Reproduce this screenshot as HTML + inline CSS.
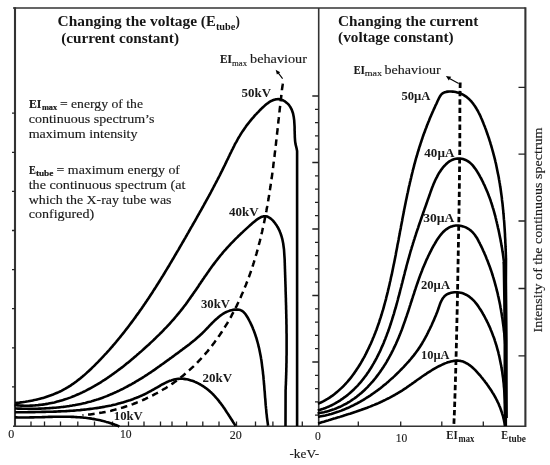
<!DOCTYPE html>
<html><head><meta charset="utf-8"><style>
html,body{margin:0;padding:0;background:#fff;}
svg{display:block;will-change:transform;}
text{font-family:"Liberation Serif",serif;fill:#1a1a1a;}
.t text{fill:#161616;}
</style></head><body>
<svg width="550" height="465" viewBox="0 0 550 465">
<rect width="550" height="465" fill="#fff"/>
<!-- frame -->
<path d="M13,8 H525.4 M318.7,8 V426 M13,426.2 H526" stroke="#333" stroke-width="1.6" fill="none"/>
<path d="M15,7.2 V427 M525.4,7.2 V427" stroke="#333" stroke-width="2.1" fill="none"/>
<path d="M12,113.2 H15 M12,152.3 H15 M12,191.4 H15 M12,230.5 H15 M12,269.6 H15 M12,308.7 H15 M12,347.8 H15 M12,386.9 H15 M31.0,426 V421.5 M44.5,426 V421.5 M60.5,426 V421.5 M77.8,426 V421.5 M94.5,426 V421.5 M112.5,426 V421.5 M128.5,426 V421.5 M144.0,426 V421.5 M160.5,426 V421.5 M172.0,426 V421.5 M186.7,426 V421.5 M202.8,426 V421.5 M219.0,426 V421.5 M236.5,426 V421.5 M255.5,426 V421.5 M272.9,426 V421.5 M302.3,426 V421.5 M312.3,96.0 H318.5 M315,109.3 H318.5 M315,122.6 H318.5 M315,135.9 H318.5 M315,149.2 H318.5 M312.3,162.5 H318.5 M315,175.8 H318.5 M315,189.1 H318.5 M315,202.4 H318.5 M315,215.7 H318.5 M312.3,229.0 H318.5 M315,242.3 H318.5 M315,255.6 H318.5 M315,268.9 H318.5 M315,282.2 H318.5 M312.3,295.5 H318.5 M315,308.8 H318.5 M315,322.1 H318.5 M315,335.4 H318.5 M315,348.7 H318.5 M312.3,362.0 H318.5 M315,375.3 H318.5 M315,388.6 H318.5 M315,401.9 H318.5 M315,415.2 H318.5 M358.3,426 V421.5 M400.7,426 V421.5 M441.8,426 V421.5 M483.3,426 V421.5 M518.5,87.4 H525 M518.5,154.1 H525 M518.5,221.0 H525 M518.5,288.5 H525 M518.5,355.8 H525 " stroke="#222" stroke-width="1.3" fill="none"/>
<g stroke="#000" stroke-width="2.6" fill="none" stroke-linejoin="round" stroke-linecap="butt">
<path d="M15.1,403.0 L16.5,402.9 L18.0,402.7 L19.5,402.6 L20.9,402.4 L22.4,402.2 L23.9,402.0 L25.4,401.8 L26.8,401.5 L28.3,401.3 L29.8,401.0 L31.3,400.7 L32.8,400.4 L34.2,400.1 L35.7,399.8 L37.2,399.4 L38.7,399.1 L40.1,398.7 L41.6,398.3 L43.1,397.9 L44.5,397.5 L46.0,397.0 L47.4,396.5 L48.8,396.0 L50.3,395.5 L51.7,395.0 L53.1,394.5 L54.5,393.9 L55.9,393.3 L57.3,392.7 L58.7,392.1 L60.0,391.5 L61.4,390.8 L62.7,390.1 L64.0,389.4 L65.4,388.7 L66.7,387.9 L68.0,387.2 L69.2,386.4 L70.5,385.6 L71.7,384.7 L73.0,383.9 L74.2,383.0 L75.4,382.2 L76.6,381.3 L77.8,380.3 L79.0,379.4 L80.2,378.5 L81.3,377.5 L82.5,376.6 L83.7,375.6 L84.8,374.6 L85.9,373.6 L87.0,372.6 L88.2,371.6 L89.3,370.5 L90.4,369.5 L91.5,368.5 L92.5,367.4 L93.6,366.4 L94.7,365.3 L95.8,364.2 L96.8,363.2 L97.9,362.1 L98.9,361.0 L100.0,359.9 L101.0,358.8 L102.1,357.7 L103.1,356.6 L104.1,355.5 L105.1,354.4 L106.2,353.3 L107.2,352.2 L108.2,351.1 L109.2,350.0 L110.2,348.8 L111.2,347.7 L112.2,346.6 L113.1,345.4 L114.1,344.3 L115.1,343.2 L116.1,342.0 L117.0,340.8 L118.0,339.7 L118.9,338.5 L119.9,337.4 L120.8,336.2 L121.8,335.0 L122.7,333.9 L123.7,332.7 L124.6,331.5 L125.5,330.3 L126.4,329.1 L127.4,327.9 L128.3,326.7 L129.2,325.5 L130.1,324.3 L131.0,323.1 L131.9,321.9 L132.8,320.7 L133.7,319.5 L134.6,318.3 L135.5,317.1 L136.3,315.8 L137.2,314.6 L138.1,313.4 L139.0,312.2 L139.8,310.9 L140.7,309.7 L141.6,308.5 L142.4,307.2 L143.3,306.0 L144.1,304.7 L145.0,303.5 L145.8,302.2 L146.7,301.0 L147.5,299.7 L148.4,298.5 L149.2,297.2 L150.0,296.0 L150.8,294.7 L151.7,293.4 L152.5,292.2 L153.3,290.9 L154.1,289.6 L155.0,288.4 L155.8,287.1 L156.6,285.8 L157.4,284.5 L158.2,283.3 L159.0,282.0 L159.8,280.7 L160.6,279.4 L161.4,278.1 L162.2,276.8 L163.0,275.6 L163.8,274.3 L164.6,273.0 L165.3,271.7 L166.1,270.4 L166.9,269.1 L167.7,267.8 L168.5,266.5 L169.3,265.2 L170.0,263.9 L170.8,262.6 L171.6,261.3 L172.3,260.0 L173.1,258.7 L173.9,257.4 L174.6,256.1 L175.4,254.8 L176.2,253.5 L176.9,252.2 L177.7,250.9 L178.5,249.6 L179.2,248.3 L180.0,247.0 L180.7,245.7 L181.5,244.4 L182.2,243.1 L183.0,241.8 L183.8,240.5 L184.5,239.2 L185.3,237.8 L186.0,236.5 L186.8,235.2 L187.5,233.9 L188.3,232.6 L189.0,231.3 L189.8,230.0 L190.5,228.7 L191.2,227.4 L192.0,226.1 L192.7,224.8 L193.5,223.5 L194.2,222.2 L195.0,220.9 L195.7,219.6 L196.5,218.2 L197.2,216.9 L197.9,215.6 L198.7,214.3 L199.4,213.0 L200.1,211.7 L200.9,210.4 L201.6,209.1 L202.3,207.8 L203.1,206.5 L203.8,205.2 L204.5,203.8 L205.3,202.5 L206.0,201.2 L206.7,199.9 L207.4,198.6 L208.1,197.3 L208.9,195.9 L209.6,194.6 L210.3,193.3 L211.0,192.0 L211.7,190.6 L212.4,189.3 L213.1,188.0 L213.8,186.7 L214.5,185.3 L215.2,184.0 L215.9,182.7 L216.6,181.3 L217.3,180.0 L218.0,178.6 L218.7,177.3 L219.4,176.0 L220.1,174.6 L220.7,173.3 L221.4,171.9 L222.1,170.6 L222.8,169.2 L223.4,167.9 L224.1,166.5 L224.8,165.1 L225.4,163.8 L226.1,162.4 L226.7,161.0 L227.4,159.7 L228.1,158.3 L228.7,156.9 L229.4,155.6 L230.0,154.2 L230.7,152.8 L231.4,151.5 L232.0,150.1 L232.7,148.8 L233.4,147.4 L234.1,146.1 L234.7,144.7 L235.4,143.4 L236.2,142.1 L236.9,140.8 L237.6,139.5 L238.3,138.2 L239.1,136.9 L239.9,135.6 L240.6,134.4 L241.4,133.1 L242.2,131.9 L243.0,130.7 L243.9,129.4 L244.7,128.2 L245.6,127.0 L246.4,125.8 L247.3,124.6 L248.3,123.4 L249.2,122.2 L250.1,121.1 L251.1,119.9 L252.1,118.7 L253.1,117.6 L254.1,116.4 L255.1,115.2 L256.2,114.1 L257.3,112.9 L258.4,111.8 L259.5,110.6 L260.6,109.5 L261.8,108.3 L263.0,107.2 L264.2,106.1 L265.4,105.0 L266.6,104.0 L267.9,103.1 L269.1,102.2 L270.4,101.4 L271.7,100.8 L272.9,100.2 L274.2,99.7 L275.5,99.4 L276.8,99.2 L278.2,99.1 L279.5,99.2 L280.8,99.5 L282.1,99.9 L283.3,100.5 L284.5,101.2 L285.7,102.0 L286.8,102.9 L287.9,103.9 L288.9,104.9 L289.7,106.1 L290.5,107.3 L291.2,108.6 L291.8,109.9 L292.3,111.3 L292.8,112.7 L293.2,114.2 L293.5,115.7 L293.8,117.3 L294.0,118.9 L294.2,120.4 L294.3,122.1 L294.4,123.7 L294.5,125.3 L294.6,127.0 L294.6,128.6 L294.6,130.2 L294.7,131.9 L294.7,133.5 L294.8,135.0 L294.8,136.6 L294.9,138.1 L295.0,139.6 L295.1,141.1 L295.3,142.5 L295.5,143.9 L295.8,145.2 L296.1,146.4 L296.4,147.6 L297.1,151.0 L297.1,426.0"/>
<path d="M14.6,405.1 L16.2,405.3 L17.8,405.4 L19.4,405.5 L21.0,405.6 L22.6,405.6 L24.2,405.7 L25.7,405.7 L27.3,405.7 L28.9,405.7 L30.4,405.6 L32.0,405.6 L33.5,405.5 L35.0,405.4 L36.6,405.2 L38.1,405.1 L39.6,404.9 L41.1,404.8 L42.6,404.6 L44.1,404.4 L45.6,404.1 L47.1,403.9 L48.6,403.6 L50.0,403.3 L51.5,403.0 L53.0,402.7 L54.4,402.4 L55.9,402.0 L57.3,401.6 L58.8,401.2 L60.2,400.8 L61.6,400.4 L63.0,400.0 L64.5,399.5 L65.9,399.1 L67.3,398.6 L68.7,398.1 L70.1,397.6 L71.4,397.1 L72.8,396.5 L74.2,396.0 L75.6,395.4 L76.9,394.8 L78.3,394.2 L79.7,393.6 L81.0,393.0 L82.4,392.4 L83.7,391.7 L85.0,391.1 L86.4,390.4 L87.7,389.7 L89.0,389.0 L90.3,388.3 L91.6,387.6 L92.9,386.9 L94.2,386.2 L95.5,385.4 L96.8,384.7 L98.1,383.9 L99.4,383.1 L100.7,382.3 L101.9,381.5 L103.2,380.7 L104.5,379.9 L105.7,379.1 L107.0,378.2 L108.2,377.4 L109.5,376.5 L110.7,375.7 L111.9,374.8 L113.2,373.9 L114.4,373.0 L115.6,372.2 L116.8,371.3 L118.1,370.3 L119.3,369.4 L120.5,368.5 L121.7,367.6 L122.9,366.7 L124.1,365.7 L125.3,364.8 L126.4,363.8 L127.6,362.9 L128.8,361.9 L130.0,360.9 L131.1,360.0 L132.3,359.0 L133.5,358.0 L134.6,357.0 L135.8,356.1 L136.9,355.1 L138.1,354.1 L139.2,353.1 L140.4,352.1 L141.5,351.1 L142.6,350.1 L143.8,349.0 L144.9,348.0 L146.0,347.0 L147.1,346.0 L148.3,345.0 L149.4,344.0 L150.5,342.9 L151.6,341.9 L152.7,340.9 L153.8,339.8 L154.9,338.8 L156.0,337.7 L157.0,336.7 L158.1,335.6 L159.2,334.6 L160.2,333.5 L161.3,332.5 L162.4,331.4 L163.4,330.3 L164.4,329.2 L165.5,328.1 L166.5,327.1 L167.5,326.0 L168.6,324.9 L169.6,323.8 L170.6,322.7 L171.6,321.5 L172.6,320.4 L173.6,319.3 L174.6,318.2 L175.5,317.0 L176.5,315.9 L177.5,314.7 L178.4,313.6 L179.4,312.4 L180.3,311.3 L181.2,310.1 L182.2,308.9 L183.1,307.7 L184.0,306.5 L184.9,305.4 L185.8,304.2 L186.7,302.9 L187.6,301.7 L188.4,300.5 L189.3,299.3 L190.2,298.1 L191.0,296.8 L191.9,295.6 L192.8,294.4 L193.6,293.1 L194.5,291.9 L195.3,290.7 L196.2,289.4 L197.0,288.2 L197.9,286.9 L198.7,285.7 L199.5,284.4 L200.4,283.2 L201.2,281.9 L202.1,280.7 L202.9,279.4 L203.8,278.2 L204.6,276.9 L205.5,275.7 L206.4,274.4 L207.2,273.2 L208.1,272.0 L209.0,270.7 L209.8,269.5 L210.7,268.3 L211.6,267.0 L212.5,265.8 L213.4,264.6 L214.3,263.4 L215.2,262.2 L216.1,261.0 L217.1,259.8 L218.0,258.6 L219.0,257.4 L219.9,256.2 L220.9,255.0 L221.9,253.9 L222.8,252.7 L223.8,251.5 L224.8,250.4 L225.8,249.3 L226.8,248.1 L227.9,247.0 L228.9,245.9 L229.9,244.8 L230.9,243.7 L232.0,242.6 L233.0,241.6 L234.1,240.5 L235.1,239.4 L236.1,238.4 L237.2,237.4 L238.2,236.3 L239.3,235.3 L240.3,234.3 L241.4,233.3 L242.4,232.4 L243.4,231.4 L244.5,230.4 L245.6,229.4 L246.7,228.4 L247.8,227.4 L248.9,226.4 L250.1,225.3 L251.3,224.2 L252.6,223.1 L253.9,222.0 L255.2,220.9 L256.5,219.8 L257.9,218.9 L259.2,218.1 L260.6,217.3 L261.9,216.8 L263.3,216.4 L264.6,216.2 L265.9,216.3 L267.2,216.5 L268.4,217.1 L269.6,217.8 L270.8,218.6 L271.9,219.6 L273.0,220.7 L274.0,221.9 L274.9,223.0 L275.8,224.3 L276.7,225.5 L277.4,226.8 L278.2,228.0 L278.8,229.4 L279.5,230.7 L280.0,232.0 L280.6,233.4 L281.0,234.8 L281.5,236.2 L281.9,237.6 L282.3,239.1 L282.6,240.5 L282.9,242.0 L283.2,243.5 L283.4,245.0 L283.6,246.5 L283.8,248.0 L284.0,249.5 L284.1,251.0 L284.2,252.6 L284.3,254.1 L284.4,255.6 L284.5,257.2 L284.6,258.7 L284.7,260.3 L284.7,261.8 L284.8,263.4 L284.8,264.9 L284.9,266.5 L284.9,268.0 L285.0,269.6 L285.0,271.1 L285.1,272.6 L285.1,274.2 L285.2,275.7 L285.2,277.2 L285.3,278.7 L285.3,280.3 L285.4,281.8 L285.4,283.3 L285.5,284.8 L285.5,286.3 L285.6,287.8 L285.6,289.3 L285.6,290.8 L285.7,292.4 L285.7,293.9 L285.8,295.4 L285.8,296.9 L285.9,298.4 L285.9,299.9 L285.9,301.4 L286.0,302.8 L286.0,304.3 L286.1,305.8 L286.1,307.3 L286.1,308.8 L286.2,310.3 L286.2,311.8 L286.2,313.3 L286.3,314.8 L286.3,316.3 L286.3,317.8 L286.4,319.2 L286.4,320.7 L286.4,322.2 L286.4,323.7 L286.5,325.2 L286.5,326.7 L286.5,328.2 L286.5,329.7 L286.5,331.1 L286.5,332.6 L286.6,334.1 L286.6,335.6 L286.6,337.1 L286.6,338.6 L286.6,340.1 L286.6,341.6 L286.6,343.1 L286.6,344.6 L286.6,346.1 L286.6,347.5 L286.6,349.0 L286.6,350.5 L286.6,352.0 L286.6,353.5 L286.6,355.0 L286.5,356.5 L286.5,358.0 L286.5,359.6 L286.5,361.1 L286.5,362.6 L286.4,364.1 L286.4,365.6 L286.4,367.1 L286.3,368.6 L286.3,370.2 L286.3,371.7 L286.2,373.2 L286.2,374.7 L286.1,376.3 L286.1,377.8 L286.0,379.3 L286.0,380.9 L285.9,382.4 L285.9,383.9 L285.8,385.5 L285.7,387.0 L285.7,388.6 L285.6,390.1 L285.5,426.0"/>
<path d="M15.0,408.5 L16.5,408.5 L18.0,408.6 L19.5,408.6 L21.0,408.6 L22.5,408.7 L24.0,408.7 L25.5,408.7 L27.0,408.7 L28.6,408.7 L30.1,408.7 L31.6,408.7 L33.1,408.7 L34.6,408.7 L36.1,408.7 L37.6,408.7 L39.1,408.6 L40.6,408.6 L42.2,408.5 L43.7,408.5 L45.2,408.4 L46.7,408.3 L48.2,408.2 L49.7,408.1 L51.2,408.0 L52.7,407.9 L54.2,407.8 L55.7,407.7 L57.2,407.5 L58.7,407.4 L60.2,407.2 L61.7,407.0 L63.2,406.9 L64.7,406.7 L66.2,406.5 L67.7,406.3 L69.2,406.1 L70.7,405.8 L72.1,405.6 L73.6,405.3 L75.1,405.1 L76.6,404.8 L78.0,404.5 L79.5,404.2 L81.0,403.9 L82.5,403.6 L83.9,403.2 L85.4,402.9 L86.8,402.5 L88.3,402.1 L89.7,401.8 L91.2,401.4 L92.6,400.9 L94.0,400.5 L95.5,400.1 L96.9,399.6 L98.3,399.2 L99.8,398.7 L101.2,398.2 L102.6,397.7 L104.0,397.1 L105.4,396.6 L106.8,396.1 L108.2,395.5 L109.6,394.9 L111.0,394.3 L112.4,393.7 L113.7,393.1 L115.1,392.5 L116.5,391.9 L117.9,391.2 L119.2,390.6 L120.6,389.9 L121.9,389.3 L123.3,388.6 L124.6,387.9 L126.0,387.2 L127.3,386.5 L128.7,385.7 L130.0,385.0 L131.3,384.3 L132.6,383.5 L133.9,382.8 L135.3,382.0 L136.6,381.2 L137.9,380.5 L139.2,379.7 L140.5,378.9 L141.8,378.1 L143.0,377.3 L144.3,376.5 L145.6,375.6 L146.9,374.8 L148.1,374.0 L149.4,373.1 L150.7,372.3 L151.9,371.5 L153.2,370.6 L154.4,369.8 L155.7,368.9 L156.9,368.0 L158.1,367.2 L159.4,366.3 L160.6,365.4 L161.8,364.5 L163.1,363.7 L164.3,362.8 L165.5,361.9 L166.7,361.0 L167.9,360.1 L169.1,359.3 L170.3,358.4 L171.6,357.5 L172.8,356.6 L174.0,355.7 L175.2,354.8 L176.4,353.9 L177.6,353.1 L178.8,352.2 L180.0,351.3 L181.2,350.4 L182.4,349.5 L183.5,348.6 L184.7,347.8 L185.9,346.9 L187.1,346.0 L188.3,345.1 L189.5,344.2 L190.6,343.3 L191.8,342.3 L192.9,341.4 L194.1,340.5 L195.3,339.5 L196.4,338.5 L197.5,337.6 L198.7,336.6 L199.8,335.5 L200.9,334.5 L202.0,333.5 L203.1,332.4 L204.2,331.3 L205.3,330.2 L206.3,329.1 L207.4,328.0 L208.5,326.9 L209.6,325.7 L210.6,324.6 L211.7,323.5 L212.8,322.4 L213.9,321.3 L215.0,320.2 L216.1,319.2 L217.3,318.2 L218.4,317.2 L219.6,316.2 L220.8,315.3 L222.0,314.5 L223.3,313.7 L224.6,312.9 L225.9,312.2 L227.2,311.6 L228.6,311.1 L230.1,310.6 L231.5,310.2 L233.1,309.9 L234.6,309.6 L236.1,309.6 L237.6,309.6 L239.0,309.8 L240.4,310.1 L241.6,310.7 L242.8,311.4 L243.8,312.3 L244.8,313.3 L245.7,314.5 L246.5,315.7 L247.3,317.0 L248.1,318.3 L248.8,319.6 L249.5,321.0 L250.2,322.3 L250.8,323.7 L251.5,325.1 L252.1,326.4 L252.7,327.8 L253.2,329.2 L253.8,330.6 L254.3,332.0 L254.8,333.4 L255.3,334.8 L255.8,336.3 L256.3,337.7 L256.7,339.1 L257.1,340.6 L257.5,342.0 L257.9,343.5 L258.3,344.9 L258.6,346.4 L259.0,347.8 L259.3,349.3 L259.6,350.8 L259.9,352.3 L260.2,353.8 L260.5,355.3 L260.8,356.7 L261.0,358.2 L261.3,359.7 L261.5,361.2 L261.7,362.7 L261.9,364.2 L262.1,365.8 L262.3,367.3 L262.5,368.8 L262.7,370.3 L262.9,371.8 L263.0,373.3 L263.2,374.9 L263.4,376.4 L263.5,377.9 L263.6,379.4 L263.8,380.9 L263.9,382.5 L264.0,384.0 L264.2,385.5 L264.3,387.0 L264.4,388.5 L264.5,390.1 L264.7,391.6 L264.8,393.1 L264.9,394.6 L265.0,396.1 L265.1,397.6 L265.3,399.2 L265.4,400.7 L265.5,402.2 L265.6,403.7 L265.7,405.2 L265.9,406.7 L266.0,408.2 L266.2,409.7 L266.3,411.2 L266.4,412.6 L266.6,414.1 L266.8,415.6 L266.9,417.1 L267.1,418.5 L267.3,420.0 L267.5,421.5 L267.7,422.9 L267.9,424.4 L268.1,425.8"/>
<path d="M15.0,412.3 L16.5,412.3 L18.0,412.3 L19.5,412.3 L21.0,412.2 L22.5,412.2 L24.0,412.2 L25.5,412.2 L27.0,412.2 L28.5,412.1 L30.0,412.1 L31.5,412.1 L33.0,412.1 L34.5,412.1 L36.1,412.0 L37.6,412.0 L39.1,412.0 L40.6,412.0 L42.1,411.9 L43.6,411.9 L45.1,411.9 L46.6,411.8 L48.2,411.8 L49.7,411.7 L51.2,411.7 L52.7,411.7 L54.2,411.6 L55.8,411.6 L57.3,411.5 L58.8,411.4 L60.3,411.4 L61.8,411.3 L63.3,411.2 L64.9,411.2 L66.4,411.1 L67.9,411.0 L69.4,410.9 L70.9,410.8 L72.4,410.7 L74.0,410.6 L75.5,410.5 L77.0,410.3 L78.5,410.2 L80.0,410.1 L81.5,409.9 L83.0,409.8 L84.5,409.6 L86.0,409.5 L87.5,409.3 L89.0,409.1 L90.5,408.9 L92.0,408.7 L93.5,408.5 L95.0,408.3 L96.5,408.1 L98.0,407.9 L99.5,407.6 L101.0,407.4 L102.4,407.1 L103.9,406.9 L105.4,406.6 L106.9,406.3 L108.3,406.0 L109.8,405.7 L111.3,405.4 L112.7,405.0 L114.2,404.7 L115.6,404.4 L117.1,404.0 L118.5,403.6 L120.0,403.2 L121.4,402.8 L122.9,402.4 L124.3,402.0 L125.7,401.6 L127.2,401.1 L128.6,400.6 L130.0,400.2 L131.4,399.7 L132.8,399.2 L134.2,398.6 L135.7,398.1 L137.1,397.5 L138.5,397.0 L139.8,396.4 L141.2,395.8 L142.6,395.1 L144.0,394.5 L145.4,393.8 L146.8,393.1 L148.1,392.4 L149.5,391.7 L150.9,391.0 L152.2,390.2 L153.6,389.5 L154.9,388.7 L156.3,387.9 L157.7,387.1 L159.0,386.3 L160.4,385.5 L161.7,384.7 L163.1,384.0 L164.4,383.3 L165.8,382.6 L167.1,382.0 L168.5,381.4 L169.9,380.8 L171.3,380.4 L172.6,379.9 L174.0,379.6 L175.4,379.3 L176.8,379.0 L178.2,378.9 L179.6,378.8 L181.0,378.8 L182.5,378.8 L183.9,378.9 L185.3,379.1 L186.7,379.3 L188.1,379.6 L189.5,380.0 L190.9,380.4 L192.3,380.8 L193.7,381.3 L195.0,381.9 L196.4,382.5 L197.8,383.1 L199.1,383.8 L200.4,384.5 L201.7,385.3 L203.0,386.1 L204.3,387.0 L205.5,387.9 L206.8,388.8 L208.0,389.8 L209.2,390.8 L210.3,391.8 L211.5,392.8 L212.6,393.9 L213.7,395.0 L214.7,396.1 L215.8,397.3 L216.8,398.5 L217.8,399.7 L218.8,400.9 L219.7,402.1 L220.7,403.3 L221.6,404.6 L222.5,405.8 L223.4,407.1 L224.3,408.3 L225.1,409.6 L226.0,410.9 L226.8,412.2 L227.6,413.4 L228.5,414.7 L229.3,416.0 L230.1,417.2 L230.9,418.5 L231.7,419.7 L232.5,421.0 L233.2,422.2 L234.0,423.4 L234.8,424.6 L235.6,425.8"/>
<path d="M15.0,417.4 L16.5,417.4 L18.1,417.5 L19.6,417.5 L21.1,417.5 L22.7,417.5 L24.2,417.5 L25.7,417.5 L27.3,417.5 L28.8,417.5 L30.3,417.4 L31.9,417.4 L33.4,417.4 L35.0,417.3 L36.5,417.3 L38.0,417.2 L39.6,417.2 L41.1,417.2 L42.7,417.1 L44.2,417.1 L45.7,417.0 L47.3,417.0 L48.8,416.9 L50.3,416.9 L51.9,416.9 L53.4,416.8 L54.9,416.8 L56.5,416.8 L58.0,416.8 L59.5,416.7 L61.1,416.7 L62.6,416.7 L64.1,416.7 L65.7,416.7 L67.2,416.8 L68.7,416.8 L70.2,416.8 L71.7,416.9 L73.3,416.9 L74.8,417.0 L76.3,417.1 L77.8,417.2 L79.3,417.3 L80.9,417.4 L82.4,417.5 L83.9,417.7 L85.4,417.8 L86.9,418.0 L88.4,418.2 L89.9,418.4 L91.4,418.6 L92.9,418.9 L94.4,419.1 L95.9,419.4 L97.4,419.7 L98.8,420.0 L100.3,420.3 L101.8,420.7 L103.3,421.1 L104.8,421.4 L106.2,421.9 L107.7,422.3 L109.2,422.7 L110.7,423.2 L112.1,423.7 L113.6,424.2 L115.1,424.8 L116.5,425.3 L118.0,425.9 L119.4,426.5"/>
<path d="M318.0,403.7 L319.4,403.1 L320.8,402.5 L322.2,401.8 L323.6,401.1 L324.9,400.4 L326.2,399.6 L327.5,398.9 L328.8,398.1 L330.0,397.3 L331.3,396.4 L332.5,395.6 L333.7,394.7 L334.9,393.8 L336.0,392.8 L337.2,391.9 L338.3,390.9 L339.4,389.9 L340.5,388.9 L341.6,387.9 L342.7,386.8 L343.7,385.8 L344.8,384.7 L345.8,383.6 L346.8,382.5 L347.8,381.4 L348.8,380.2 L349.7,379.1 L350.7,377.9 L351.6,376.7 L352.5,375.5 L353.4,374.3 L354.3,373.1 L355.1,371.8 L356.0,370.6 L356.8,369.3 L357.7,368.0 L358.5,366.8 L359.3,365.5 L360.1,364.2 L360.9,362.9 L361.6,361.6 L362.4,360.3 L363.1,358.9 L363.9,357.6 L364.6,356.3 L365.3,354.9 L366.0,353.6 L366.7,352.2 L367.3,350.9 L368.0,349.5 L368.7,348.2 L369.3,346.8 L369.9,345.4 L370.6,344.1 L371.2,342.7 L371.8,341.3 L372.4,339.9 L372.9,338.5 L373.5,337.2 L374.1,335.8 L374.6,334.4 L375.2,333.0 L375.7,331.6 L376.3,330.2 L376.8,328.8 L377.3,327.3 L377.8,325.9 L378.3,324.5 L378.8,323.1 L379.3,321.7 L379.7,320.2 L380.2,318.8 L380.7,317.4 L381.1,316.0 L381.6,314.5 L382.0,313.1 L382.4,311.6 L382.9,310.2 L383.3,308.8 L383.7,307.3 L384.1,305.9 L384.5,304.4 L384.9,303.0 L385.3,301.5 L385.7,300.1 L386.1,298.6 L386.4,297.1 L386.8,295.7 L387.2,294.2 L387.5,292.8 L387.9,291.3 L388.2,289.8 L388.6,288.4 L388.9,286.9 L389.3,285.4 L389.6,284.0 L389.9,282.5 L390.3,281.0 L390.6,279.6 L390.9,278.1 L391.2,276.6 L391.6,275.2 L391.9,273.7 L392.2,272.2 L392.5,270.7 L392.8,269.3 L393.1,267.8 L393.4,266.3 L393.7,264.8 L394.0,263.4 L394.3,261.9 L394.6,260.4 L394.9,258.9 L395.2,257.5 L395.5,256.0 L395.8,254.5 L396.0,253.0 L396.3,251.5 L396.6,250.1 L396.9,248.6 L397.2,247.1 L397.4,245.6 L397.7,244.1 L398.0,242.7 L398.3,241.2 L398.6,239.7 L398.8,238.2 L399.1,236.8 L399.4,235.3 L399.7,233.8 L399.9,232.3 L400.2,230.8 L400.5,229.4 L400.8,227.9 L401.0,226.4 L401.3,224.9 L401.6,223.4 L401.9,222.0 L402.2,220.5 L402.4,219.0 L402.7,217.5 L403.0,216.1 L403.3,214.6 L403.6,213.1 L403.9,211.6 L404.1,210.1 L404.4,208.7 L404.7,207.2 L405.0,205.7 L405.3,204.2 L405.6,202.8 L405.9,201.3 L406.2,199.8 L406.5,198.4 L406.8,196.9 L407.1,195.4 L407.4,193.9 L407.8,192.5 L408.1,191.0 L408.4,189.5 L408.7,188.1 L409.0,186.6 L409.4,185.1 L409.7,183.7 L410.0,182.2 L410.4,180.8 L410.7,179.3 L411.1,177.8 L411.4,176.4 L411.8,174.9 L412.1,173.5 L412.5,172.0 L412.8,170.5 L413.2,169.1 L413.6,167.6 L414.0,166.2 L414.3,164.7 L414.7,163.3 L415.1,161.8 L415.5,160.4 L415.9,158.9 L416.3,157.5 L416.8,156.0 L417.2,154.6 L417.6,153.2 L418.0,151.7 L418.5,150.3 L418.9,148.8 L419.3,147.4 L419.8,146.0 L420.3,144.5 L420.7,143.1 L421.2,141.7 L421.7,140.2 L422.2,138.8 L422.6,137.4 L423.1,136.0 L423.6,134.5 L424.2,133.1 L424.7,131.7 L425.2,130.3 L425.7,128.9 L426.3,127.5 L426.8,126.0 L427.4,124.6 L427.9,123.2 L428.5,121.8 L429.1,120.4 L429.6,119.0 L430.2,117.6 L430.8,116.2 L431.4,114.8 L432.0,113.4 L432.6,112.0 L433.2,110.7 L433.8,109.3 L434.5,107.9 L435.1,106.5 L435.7,105.1 L436.4,103.8 L437.0,102.4 L437.6,101.0 L438.3,99.7 L438.9,98.3 L439.6,97.0 L440.4,95.7 L441.2,94.6 L442.2,93.6 L443.4,92.9 L444.8,92.3 L446.2,91.9 L447.8,91.6 L449.4,91.5 L451.1,91.5 L452.7,91.6 L454.2,91.8 L455.7,92.1 L457.2,92.4 L458.6,92.8 L459.9,93.3 L461.3,93.8 L462.5,94.4 L463.8,95.1 L464.9,95.8 L466.1,96.6 L467.2,97.5 L468.3,98.4 L469.3,99.3 L470.3,100.3 L471.3,101.4 L472.2,102.5 L473.1,103.6 L473.9,104.8 L474.8,106.0 L475.6,107.2 L476.4,108.5 L477.1,109.8 L477.9,111.1 L478.6,112.5 L479.3,113.8 L480.0,115.2 L480.6,116.6 L481.2,118.0 L481.9,119.5 L482.5,120.9 L483.1,122.4 L483.6,123.8 L484.2,125.3 L484.8,126.7 L485.3,128.2 L485.9,129.6 L486.4,131.1 L486.9,132.5 L487.4,134.0 L487.9,135.4 L488.4,136.9 L488.9,138.3 L489.4,139.8 L489.8,141.2 L490.3,142.7 L490.7,144.2 L491.2,145.6 L491.6,147.1 L492.0,148.5 L492.4,150.0 L492.8,151.4 L493.2,152.9 L493.6,154.3 L494.0,155.8 L494.4,157.3 L494.7,158.7 L495.1,160.2 L495.4,161.6 L495.8,163.1 L496.1,164.6 L496.4,166.0 L496.7,167.5 L497.0,169.0 L497.3,170.4 L497.6,171.9 L497.9,173.4 L498.2,174.8 L498.5,176.3 L498.8,177.8 L499.0,179.2 L499.3,180.7 L499.5,182.2 L499.8,183.6 L500.0,185.1 L500.2,186.6 L500.5,188.0 L500.7,189.5 L500.9,191.0 L501.1,192.5 L501.3,194.0 L501.5,195.4 L501.7,196.9 L501.9,198.4 L502.0,199.9 L502.2,201.4 L502.4,202.8 L502.6,204.3 L502.7,205.8 L502.9,207.3 L503.0,208.8 L503.2,210.3 L503.3,211.8 L503.4,213.3 L503.6,214.7 L503.7,216.2 L503.8,217.7 L503.9,219.2 L504.1,220.7 L504.2,222.2 L504.3,223.7 L504.4,225.2 L504.5,226.7 L504.6,228.2 L504.7,229.7 L504.8,231.3 L504.9,232.8 L505.0,234.3 L505.0,235.8 L505.1,237.3 L505.2,238.8 L505.3,240.3 L505.3,241.9 L505.4,243.4 L505.5,244.9 L505.5,246.4 L505.6,247.9 L505.7,249.5 L505.7,251.0 L505.8,252.5 L505.8,254.1 L505.9,255.6 L505.9,257.1 L506.0,258.7 L506.0,260.2 L505.8,300.0 L505.8,426.0"/>
<path d="M317.8,410.6 L319.4,410.1 L320.9,409.6 L322.4,409.1 L323.9,408.5 L325.4,408.0 L326.8,407.4 L328.3,406.8 L329.7,406.1 L331.1,405.5 L332.4,404.8 L333.8,404.1 L335.1,403.4 L336.4,402.6 L337.7,401.9 L339.0,401.1 L340.3,400.3 L341.5,399.4 L342.7,398.6 L343.9,397.7 L345.1,396.9 L346.3,396.0 L347.5,395.1 L348.6,394.1 L349.7,393.2 L350.8,392.2 L351.9,391.2 L353.0,390.2 L354.1,389.2 L355.1,388.2 L356.1,387.1 L357.2,386.1 L358.2,385.0 L359.1,383.9 L360.1,382.8 L361.1,381.7 L362.0,380.5 L362.9,379.4 L363.8,378.2 L364.7,377.0 L365.6,375.9 L366.5,374.7 L367.3,373.4 L368.2,372.2 L369.0,371.0 L369.8,369.7 L370.6,368.5 L371.4,367.2 L372.2,365.9 L372.9,364.6 L373.7,363.4 L374.4,362.0 L375.2,360.7 L375.9,359.4 L376.6,358.1 L377.3,356.7 L378.0,355.4 L378.6,354.0 L379.3,352.7 L380.0,351.3 L380.6,349.9 L381.2,348.5 L381.8,347.1 L382.5,345.7 L383.1,344.3 L383.7,342.9 L384.2,341.5 L384.8,340.1 L385.4,338.7 L385.9,337.2 L386.5,335.8 L387.0,334.4 L387.5,332.9 L388.1,331.5 L388.6,330.0 L389.1,328.6 L389.6,327.2 L390.1,325.7 L390.6,324.3 L391.0,322.8 L391.5,321.3 L392.0,319.9 L392.4,318.4 L392.9,317.0 L393.3,315.5 L393.8,314.1 L394.2,312.6 L394.6,311.2 L395.0,309.7 L395.5,308.3 L395.9,306.8 L396.3,305.4 L396.7,303.9 L397.1,302.5 L397.5,301.0 L397.9,299.6 L398.2,298.1 L398.6,296.7 L399.0,295.3 L399.4,293.8 L399.8,292.4 L400.1,290.9 L400.5,289.5 L400.9,288.0 L401.3,286.6 L401.6,285.2 L402.0,283.7 L402.4,282.3 L402.7,280.8 L403.1,279.4 L403.5,277.9 L403.8,276.5 L404.2,275.1 L404.6,273.6 L404.9,272.2 L405.3,270.7 L405.7,269.3 L406.1,267.9 L406.4,266.4 L406.8,265.0 L407.2,263.5 L407.6,262.1 L408.0,260.7 L408.4,259.2 L408.8,257.8 L409.2,256.3 L409.6,254.9 L410.0,253.5 L410.4,252.0 L410.8,250.6 L411.3,249.1 L411.7,247.7 L412.1,246.3 L412.6,244.8 L413.0,243.4 L413.5,241.9 L413.9,240.5 L414.4,239.1 L414.8,237.6 L415.3,236.2 L415.8,234.7 L416.2,233.3 L416.7,231.9 L417.2,230.4 L417.7,229.0 L418.2,227.6 L418.6,226.1 L419.1,224.7 L419.6,223.3 L420.1,221.8 L420.6,220.4 L421.1,219.0 L421.6,217.5 L422.1,216.1 L422.6,214.7 L423.1,213.2 L423.6,211.8 L424.1,210.4 L424.6,208.9 L425.1,207.5 L425.6,206.1 L426.1,204.7 L426.6,203.3 L427.1,201.8 L427.6,200.4 L428.1,199.0 L428.6,197.6 L429.1,196.2 L429.6,194.8 L430.1,193.4 L430.6,191.9 L431.1,190.5 L431.6,189.1 L432.1,187.7 L432.7,186.3 L433.2,185.0 L433.8,183.6 L434.4,182.2 L435.0,180.8 L435.6,179.5 L436.3,178.1 L437.0,176.8 L437.7,175.4 L438.4,174.1 L439.2,172.8 L440.1,171.5 L440.9,170.2 L441.9,168.9 L442.8,167.7 L443.8,166.5 L444.9,165.3 L445.9,164.3 L447.1,163.2 L448.2,162.3 L449.4,161.4 L450.7,160.7 L451.9,160.0 L453.2,159.5 L454.6,159.1 L456.0,158.8 L457.4,158.6 L458.8,158.5 L460.2,158.6 L461.6,158.8 L463.0,159.1 L464.3,159.5 L465.6,160.0 L466.9,160.6 L468.1,161.4 L469.3,162.2 L470.4,163.1 L471.5,164.1 L472.5,165.2 L473.5,166.4 L474.4,167.6 L475.3,168.8 L476.2,170.1 L477.1,171.4 L477.9,172.8 L478.7,174.1 L479.5,175.5 L480.2,176.9 L481.0,178.2 L481.7,179.6 L482.4,181.0 L483.1,182.4 L483.7,183.8 L484.4,185.1 L485.0,186.5 L485.6,187.9 L486.2,189.3 L486.8,190.7 L487.4,192.1 L488.0,193.5 L488.5,194.9 L489.0,196.3 L489.6,197.7 L490.1,199.1 L490.6,200.5 L491.0,201.9 L491.5,203.3 L492.0,204.8 L492.4,206.2 L492.8,207.6 L493.3,209.0 L493.7,210.5 L494.1,211.9 L494.5,213.3 L494.9,214.8 L495.3,216.2 L495.6,217.6 L496.0,219.1 L496.3,220.5 L496.7,222.0 L497.0,223.5 L497.4,224.9 L497.7,226.4 L498.0,227.8 L498.4,229.3 L498.7,230.8 L499.0,232.2 L499.3,233.7 L499.6,235.2 L499.9,236.7 L500.2,238.2 L500.5,239.6 L500.7,241.1 L501.0,242.6 L501.3,244.1 L501.5,245.6 L501.8,247.1 L502.1,248.6 L502.3,250.1 L502.5,251.6 L502.8,253.1 L503.0,254.6 L503.2,256.1 L503.4,257.6 L503.6,259.1 L503.8,260.6 L504.0,262.1 L504.2,263.6 L504.3,265.1 L504.5,266.6 L504.6,268.0 L504.8,269.5 L504.9,271.0 L505.0,272.5 L505.1,274.0 L505.2,275.5 L505.3,277.0 L505.4,278.5 L505.5,280.0 L505.6,426.0"/>
<path d="M317.6,413.4 L319.3,413.1 L320.8,412.8 L322.4,412.5 L324.0,412.2 L325.5,411.8 L327.1,411.4 L328.6,411.0 L330.1,410.5 L331.5,410.1 L333.0,409.6 L334.4,409.1 L335.9,408.5 L337.3,407.9 L338.7,407.3 L340.1,406.7 L341.4,406.1 L342.8,405.4 L344.1,404.7 L345.5,404.0 L346.8,403.3 L348.0,402.5 L349.3,401.8 L350.6,401.0 L351.8,400.2 L353.1,399.3 L354.3,398.5 L355.5,397.6 L356.7,396.7 L357.8,395.8 L359.0,394.9 L360.1,393.9 L361.3,393.0 L362.4,392.0 L363.5,391.0 L364.6,390.0 L365.7,388.9 L366.7,387.9 L367.8,386.8 L368.8,385.7 L369.8,384.7 L370.8,383.5 L371.8,382.4 L372.8,381.3 L373.8,380.1 L374.7,379.0 L375.7,377.8 L376.6,376.6 L377.5,375.4 L378.4,374.2 L379.3,373.0 L380.2,371.8 L381.0,370.5 L381.9,369.3 L382.7,368.0 L383.6,366.7 L384.4,365.4 L385.2,364.2 L386.0,362.9 L386.8,361.6 L387.5,360.2 L388.3,358.9 L389.0,357.6 L389.8,356.2 L390.5,354.9 L391.2,353.6 L391.9,352.2 L392.6,350.8 L393.3,349.5 L393.9,348.1 L394.6,346.7 L395.2,345.4 L395.9,344.0 L396.5,342.6 L397.1,341.2 L397.7,339.8 L398.3,338.4 L398.9,337.0 L399.5,335.6 L400.0,334.2 L400.6,332.8 L401.1,331.4 L401.7,330.0 L402.2,328.6 L402.7,327.2 L403.2,325.8 L403.7,324.4 L404.2,323.0 L404.7,321.6 L405.2,320.2 L405.7,318.7 L406.2,317.3 L406.7,315.9 L407.1,314.5 L407.6,313.1 L408.1,311.7 L408.6,310.2 L409.0,308.8 L409.5,307.4 L409.9,306.0 L410.4,304.6 L410.8,303.1 L411.3,301.7 L411.8,300.3 L412.2,298.9 L412.7,297.4 L413.1,296.0 L413.6,294.6 L414.1,293.2 L414.5,291.7 L415.0,290.3 L415.5,288.9 L415.9,287.5 L416.4,286.1 L416.9,284.6 L417.4,283.2 L417.9,281.8 L418.4,280.4 L418.9,278.9 L419.4,277.5 L419.9,276.1 L420.4,274.7 L421.0,273.3 L421.5,271.9 L422.1,270.4 L422.6,269.0 L423.2,267.6 L423.8,266.2 L424.4,264.8 L425.0,263.4 L425.6,262.0 L426.2,260.6 L426.8,259.2 L427.5,257.8 L428.1,256.4 L428.8,255.0 L429.5,253.6 L430.2,252.2 L430.9,250.8 L431.6,249.4 L432.3,248.0 L433.1,246.6 L433.9,245.2 L434.7,243.9 L435.5,242.5 L436.3,241.1 L437.1,239.8 L438.0,238.5 L438.9,237.2 L439.8,236.0 L440.7,234.8 L441.7,233.6 L442.7,232.5 L443.7,231.5 L444.8,230.5 L445.8,229.6 L447.0,228.8 L448.1,228.1 L449.3,227.4 L450.5,226.8 L451.8,226.4 L453.1,226.0 L454.4,225.7 L455.8,225.5 L457.2,225.5 L458.6,225.6 L460.1,225.7 L461.5,226.0 L463.0,226.4 L464.4,226.9 L465.8,227.4 L467.1,228.1 L468.4,228.8 L469.7,229.7 L470.9,230.6 L471.9,231.6 L473.0,232.7 L473.9,233.8 L474.9,235.0 L475.7,236.2 L476.6,237.5 L477.4,238.8 L478.1,240.2 L478.8,241.6 L479.6,243.0 L480.2,244.3 L480.9,245.7 L481.6,247.1 L482.3,248.5 L482.9,249.9 L483.5,251.3 L484.2,252.7 L484.8,254.2 L485.4,255.6 L486.0,257.0 L486.5,258.4 L487.1,259.8 L487.7,261.2 L488.2,262.6 L488.7,264.1 L489.3,265.5 L489.8,266.9 L490.3,268.3 L490.8,269.7 L491.3,271.2 L491.8,272.6 L492.2,274.0 L492.7,275.5 L493.1,276.9 L493.6,278.4 L494.0,279.8 L494.4,281.2 L494.8,282.7 L495.2,284.1 L495.6,285.6 L496.0,287.0 L496.4,288.5 L496.7,289.9 L497.1,291.4 L497.5,292.8 L497.8,294.3 L498.1,295.8 L498.5,297.2 L498.8,298.7 L499.1,300.2 L499.4,301.6 L499.7,303.1 L500.0,304.6 L500.3,306.1 L500.5,307.5 L500.8,309.0 L501.1,310.5 L501.3,312.0 L501.6,313.5 L501.8,314.9 L502.0,316.4 L502.3,317.9 L502.5,319.4 L502.7,320.9 L502.9,322.4 L503.1,323.9 L503.3,325.4 L503.5,326.9 L503.7,328.4 L503.8,329.9 L504.0,331.4 L504.2,332.9 L504.4,334.4 L504.5,336.0 L504.7,337.5 L504.8,339.0 L505.0,340.5 L505.1,342.0 L505.2,343.6 L505.4,345.1 L505.6,426.0"/>
<path d="M318.0,416.8 L319.5,416.6 L321.0,416.3 L322.5,416.0 L324.0,415.7 L325.4,415.4 L326.9,415.0 L328.4,414.7 L329.8,414.3 L331.3,413.9 L332.8,413.4 L334.2,413.0 L335.6,412.6 L337.1,412.1 L338.5,411.6 L339.9,411.1 L341.3,410.6 L342.7,410.0 L344.1,409.5 L345.5,408.9 L346.9,408.3 L348.3,407.7 L349.6,407.1 L351.0,406.4 L352.3,405.8 L353.7,405.1 L355.0,404.4 L356.4,403.8 L357.7,403.0 L359.0,402.3 L360.3,401.6 L361.6,400.8 L362.9,400.1 L364.2,399.3 L365.5,398.5 L366.8,397.7 L368.1,396.9 L369.3,396.1 L370.6,395.3 L371.8,394.4 L373.1,393.5 L374.3,392.7 L375.5,391.8 L376.8,390.9 L378.0,390.0 L379.2,389.1 L380.4,388.2 L381.6,387.2 L382.8,386.3 L383.9,385.3 L385.1,384.4 L386.3,383.4 L387.4,382.4 L388.6,381.4 L389.7,380.4 L390.8,379.4 L391.9,378.4 L393.1,377.4 L394.2,376.4 L395.3,375.3 L396.4,374.3 L397.4,373.2 L398.5,372.2 L399.6,371.1 L400.6,370.0 L401.7,369.0 L402.7,367.9 L403.8,366.8 L404.8,365.7 L405.8,364.6 L406.8,363.5 L407.8,362.4 L408.8,361.3 L409.8,360.1 L410.8,359.0 L411.7,357.9 L412.7,356.7 L413.6,355.6 L414.5,354.4 L415.4,353.2 L416.3,352.0 L417.2,350.8 L418.1,349.6 L418.9,348.3 L419.8,347.1 L420.6,345.8 L421.4,344.5 L422.2,343.2 L422.9,341.9 L423.7,340.6 L424.4,339.3 L425.2,337.9 L425.9,336.6 L426.6,335.3 L427.3,333.9 L428.0,332.6 L428.6,331.2 L429.3,329.9 L430.0,328.5 L430.6,327.2 L431.3,325.8 L431.9,324.5 L432.5,323.1 L433.1,321.7 L433.8,320.4 L434.3,319.0 L434.9,317.6 L435.5,316.2 L436.1,314.8 L436.6,313.4 L437.2,312.0 L437.7,310.6 L438.2,309.2 L438.7,307.8 L439.2,306.3 L439.7,304.9 L440.2,303.5 L440.8,302.1 L441.4,300.8 L442.1,299.5 L442.8,298.3 L443.7,297.2 L444.6,296.1 L445.7,295.2 L446.8,294.4 L448.2,293.8 L449.6,293.2 L451.1,292.8 L452.7,292.5 L454.3,292.3 L455.9,292.3 L457.5,292.3 L459.1,292.5 L460.6,292.7 L462.0,293.1 L463.4,293.5 L464.7,294.1 L466.0,294.7 L467.3,295.4 L468.5,296.1 L469.7,297.0 L470.8,297.9 L471.9,298.8 L473.0,299.9 L474.0,300.9 L475.0,302.0 L475.9,303.2 L476.9,304.4 L477.8,305.6 L478.7,306.9 L479.5,308.2 L480.4,309.5 L481.2,310.8 L482.0,312.1 L482.8,313.5 L483.5,314.8 L484.3,316.1 L485.0,317.5 L485.7,318.9 L486.4,320.2 L487.1,321.6 L487.8,322.9 L488.4,324.3 L489.0,325.7 L489.7,327.1 L490.3,328.5 L490.8,329.9 L491.4,331.3 L492.0,332.7 L492.5,334.1 L493.0,335.5 L493.6,336.9 L494.1,338.3 L494.6,339.7 L495.0,341.1 L495.5,342.6 L495.9,344.0 L496.4,345.4 L496.8,346.9 L497.2,348.3 L497.6,349.8 L498.0,351.2 L498.4,352.7 L498.7,354.1 L499.1,355.6 L499.4,357.0 L499.7,358.5 L500.0,360.0 L500.3,361.4 L500.6,362.9 L500.9,364.4 L501.2,365.8 L501.4,367.3 L501.7,368.8 L501.9,370.3 L502.2,371.8 L502.4,373.3 L502.6,374.8 L502.8,376.2 L503.0,377.7 L503.2,379.2 L503.3,380.7 L503.5,382.2 L503.7,383.7 L503.8,385.2 L503.9,386.7 L504.1,388.2 L504.2,389.7 L504.3,391.2 L504.4,392.7 L504.5,394.3 L504.6,395.8 L504.7,397.3 L504.8,398.8 L504.9,400.3 L504.9,401.8 L505.0,403.3 L505.1,404.8 L505.1,406.4 L505.1,407.9 L505.2,409.4 L505.2,410.9 L505.2,412.4 L505.3,413.9 L505.3,415.4 L505.3,417.0 L505.3,418.5 L505.3,420.0 L505.3,421.5 L505.3,423.0 L505.3,424.5 L505.3,426.0"/>
<path d="M318.1,423.4 L319.5,423.0 L321.0,422.5 L322.4,422.1 L323.8,421.7 L325.3,421.2 L326.7,420.8 L328.2,420.4 L329.6,419.9 L331.1,419.5 L332.5,419.1 L334.0,418.6 L335.4,418.2 L336.9,417.7 L338.3,417.3 L339.8,416.9 L341.2,416.4 L342.7,416.0 L344.1,415.5 L345.6,415.1 L347.1,414.6 L348.5,414.1 L350.0,413.7 L351.4,413.2 L352.9,412.7 L354.3,412.2 L355.7,411.8 L357.2,411.3 L358.6,410.8 L360.1,410.3 L361.5,409.8 L362.9,409.2 L364.4,408.7 L365.8,408.2 L367.2,407.7 L368.6,407.1 L370.0,406.6 L371.5,406.0 L372.9,405.4 L374.3,404.9 L375.7,404.3 L377.1,403.7 L378.5,403.1 L379.8,402.5 L381.2,401.8 L382.6,401.2 L384.0,400.5 L385.3,399.9 L386.7,399.2 L388.1,398.5 L389.4,397.9 L390.7,397.2 L392.1,396.4 L393.4,395.7 L394.7,395.0 L396.0,394.2 L397.3,393.5 L398.6,392.7 L399.9,391.9 L401.2,391.1 L402.5,390.3 L403.8,389.4 L405.0,388.6 L406.3,387.8 L407.5,386.9 L408.8,386.0 L410.0,385.2 L411.3,384.3 L412.5,383.4 L413.8,382.5 L415.0,381.6 L416.2,380.7 L417.5,379.8 L418.7,379.0 L420.0,378.1 L421.2,377.2 L422.5,376.3 L423.7,375.5 L425.0,374.6 L426.3,373.8 L427.5,372.9 L428.8,372.1 L430.1,371.3 L431.4,370.5 L432.7,369.7 L434.0,368.9 L435.4,368.1 L436.7,367.4 L438.0,366.7 L439.4,366.0 L440.8,365.3 L442.2,364.6 L443.6,364.0 L445.0,363.4 L446.4,362.9 L447.8,362.3 L449.3,361.9 L450.7,361.5 L452.1,361.2 L453.5,360.9 L455.0,360.7 L456.4,360.6 L457.8,360.6 L459.1,360.7 L460.5,360.9 L461.8,361.2 L463.2,361.6 L464.5,362.2 L465.7,362.8 L467.0,363.5 L468.2,364.2 L469.5,365.1 L470.7,366.0 L471.9,367.0 L473.0,368.0 L474.2,369.1 L475.3,370.2 L476.4,371.4 L477.5,372.6 L478.6,373.8 L479.7,375.0 L480.7,376.2 L481.7,377.5 L482.7,378.7 L483.7,380.0 L484.7,381.2 L485.6,382.5 L486.6,383.7 L487.5,385.0 L488.4,386.2 L489.2,387.5 L490.1,388.8 L490.9,390.0 L491.8,391.3 L492.5,392.6 L493.3,393.8 L494.1,395.1 L494.8,396.4 L495.5,397.7 L496.2,399.0 L496.9,400.3 L497.5,401.6 L498.2,403.0 L498.8,404.3 L499.3,405.7 L499.9,407.0 L500.4,408.4 L500.9,409.8 L501.4,411.2 L501.9,412.6 L502.3,414.1 L502.8,415.5 L503.2,417.0 L503.5,418.4 L503.9,419.9 L504.2,421.5 L504.5,423.0 L504.7,424.5 L505.0,426.1"/>
<path d="M504.6,262 L505.2,300 L505.6,340 L505.6,380 L505.8,418" stroke-width="4.2"/>
</g>
<g stroke="#000" stroke-width="2.9" fill="none">
<path d="M82.5,415.2 L84.0,415.1 L85.5,414.9 L87.1,414.8 L88.6,414.6 L90.1,414.4 L91.7,414.2 L93.2,414.0 L94.7,413.8 L96.2,413.6 L97.7,413.4 L99.2,413.1 L100.7,412.8 L102.3,412.6 L103.8,412.3 L105.3,412.0 L106.7,411.7 L108.2,411.3 L109.7,411.0 L111.2,410.7 L112.7,410.3 L114.2,409.9 L115.6,409.5 L117.1,409.1 L118.6,408.7 L120.0,408.3 L121.5,407.9 L122.9,407.5 L124.4,407.0 L125.8,406.5 L127.3,406.1 L128.7,405.6 L130.1,405.1 L131.6,404.6 L133.0,404.1 L134.4,403.5 L135.8,403.0 L137.2,402.4 L138.6,401.9 L140.0,401.3 L141.4,400.7 L142.8,400.1 L144.1,399.5 L145.5,398.9 L146.9,398.2 L148.2,397.6 L149.6,396.9 L150.9,396.3 L152.3,395.6 L153.6,394.9 L154.9,394.2 L156.2,393.5 L157.5,392.8 L158.9,392.1 L160.2,391.3 L161.4,390.6 L162.7,389.8 L164.0,389.0 L165.3,388.3 L166.6,387.5 L167.8,386.7 L169.1,385.9 L170.3,385.0 L171.5,384.2 L172.8,383.4 L174.0,382.5 L175.2,381.6 L176.4,380.8 L177.6,379.9 L178.8,379.0 L180.0,378.1 L181.1,377.1 L182.3,376.2 L183.5,375.3 L184.6,374.3 L185.7,373.4 L186.9,372.4 L188.0,371.4 L189.1,370.4 L190.2,369.4 L191.3,368.4 L192.4,367.4 L193.5,366.4 L194.5,365.4 L195.6,364.3 L196.7,363.3 L197.7,362.2 L198.7,361.1 L199.8,360.0 L200.8,358.9 L201.8,357.8 L202.8,356.7 L203.8,355.6 L204.8,354.5 L205.7,353.4 L206.7,352.2 L207.7,351.1 L208.6,349.9 L209.6,348.8 L210.5,347.6 L211.4,346.4 L212.3,345.2 L213.2,344.0 L214.2,342.8 L215.0,341.6 L215.9,340.4 L216.8,339.2 L217.7,338.0 L218.5,336.7 L219.4,335.5 L220.2,334.3 L221.1,333.0 L221.9,331.8 L222.7,330.5 L223.5,329.2 L224.3,328.0 L225.1,326.7 L225.9,325.4 L226.7,324.1 L227.5,322.8 L228.2,321.5 L229.0,320.2 L229.7,318.9 L230.5,317.6 L231.2,316.3 L231.9,314.9 L232.6,313.6 L233.3,312.3 L234.0,310.9 L234.7,309.6 L235.4,308.3 L236.1,306.9 L236.8,305.6 L237.4,304.2 L238.1,302.8 L238.7,301.5 L239.3,300.1 L240.0,298.8 L240.6,297.4 L241.2,296.0 L241.8,294.6 L242.4,293.3 L243.0,291.9 L243.6,290.5 L244.2,289.1 L244.7,287.7 L245.3,286.3 L245.9,284.9 L246.4,283.5 L247.0,282.1 L247.5,280.7 L248.0,279.3 L248.5,277.9 L249.1,276.5 L249.6,275.1 L250.1,273.7 L250.6,272.3 L251.1,270.8 L251.5,269.4 L252.0,268.0 L252.5,266.6 L253.0,265.1 L253.4,263.7 L253.9,262.3 L254.3,260.8 L254.7,259.4 L255.2,258.0 L255.6,256.5 L256.0,255.1 L256.5,253.6 L256.9,252.2 L257.3,250.7 L257.7,249.3 L258.1,247.8 L258.5,246.4 L258.8,244.9 L259.2,243.5 L259.6,242.0 L260.0,240.5 L260.3,239.1 L260.7,237.6 L261.0,236.1 L261.4,234.7 L261.7,233.2 L262.1,231.7 L262.4,230.3 L262.7,228.8 L263.1,227.3 L263.4,225.8 L263.7,224.4 L264.0,222.9 L264.3,221.4 L264.6,219.9 L264.9,218.4 L265.2,217.0 L265.5,215.5 L265.8,214.0 L266.1,212.5 L266.4,211.0 L266.6,209.5 L266.9,208.0 L267.2,206.5 L267.4,205.1 L267.7,203.6 L268.0,202.1 L268.2,200.6 L268.5,199.1 L268.7,197.6 L269.0,196.1 L269.2,194.6 L269.4,193.1 L269.7,191.6 L269.9,190.1 L270.1,188.6 L270.4,187.1 L270.6,185.6 L270.8,184.1 L271.0,182.6 L271.2,181.1 L271.4,179.6 L271.7,178.1 L271.9,176.6 L272.1,175.1 L272.3,173.6 L272.5,172.1 L272.7,170.6 L272.9,169.1 L273.1,167.6 L273.3,166.1 L273.4,164.6 L273.6,163.1 L273.8,161.6 L274.0,160.1 L274.2,158.6 L274.4,157.1 L274.6,155.6 L274.7,154.1 L274.9,152.6 L275.1,151.1 L275.3,149.6 L275.4,148.1 L275.6,146.6 L275.8,145.1 L276.0,143.6 L276.1,142.1 L276.3,140.6 L276.5,139.1 L276.6,137.6 L276.8,136.1 L277.0,134.6 L277.1,133.1 L277.3,131.6 L277.5,130.1 L277.6,128.6 L277.8,127.1 L277.9,125.6 L278.1,124.1 L278.3,122.6 L278.4,121.2 L278.6,119.7 L278.8,118.2 L278.9,116.7 L279.1,115.2 L279.3,113.7 L279.4,112.3 L279.6,110.8 L279.7,109.3 L279.9,107.8 L280.1,106.3 L280.2,104.9 L280.4,103.4 L280.6,101.9 L280.7,100.4 L280.9,99.0 L281.1,97.5 L281.3,96.0 L281.4,94.6 L281.6,93.1 L281.8,91.6 L281.9,90.2 L282.1,88.7 L282.3,87.3 L282.5,85.8 L282.7,84.4 L282.8,82.9" stroke-dasharray="6.6,4.6" stroke-dashoffset="5.6" stroke-width="2.5"/>
<path d="M460.2,82.5 L459.9,100.0 L459.8,145.0 L459.2,200.0 L458.3,250.0 L457.4,300.0 L456.5,340.0 L455.6,375.0 L454.5,410.0 L453.8,426.0" stroke-dasharray="5.4,3" stroke-width="2.8"/>
</g>

<path d="M282.6,78.7 L278.2,72.9" stroke="#000" stroke-width="1.1" fill="none"/>
<path d="M275.7,69.7 L280.2,72.2 L276.9,74.6 Z" fill="#000"/>
<path d="M458.7,83.4 L449.5,78.4" stroke="#000" stroke-width="1.1" fill="none"/>
<path d="M445.9,75.9 L451.2,76.7 L448.8,80.6 Z" fill="#000"/>

<g>
<g class="t"><text x="57.6" y="26.4" font-size="14" font-weight="bold" textLength="148.4" lengthAdjust="spacingAndGlyphs">Changing the voltage (</text>
<text x="206.1" y="26.4" font-size="14" font-weight="bold" textLength="9.8" lengthAdjust="spacingAndGlyphs">E</text>
<text x="215.9" y="29.7" font-size="10" font-weight="bold" textLength="19.5" lengthAdjust="spacingAndGlyphs">tube</text>
<text x="235.4" y="26.4" font-size="14" font-weight="bold" textLength="4.4" lengthAdjust="spacingAndGlyphs">)</text>
<text x="61.3" y="42.7" font-size="14" font-weight="bold" textLength="117.7" lengthAdjust="spacingAndGlyphs">(current constant)</text>
<text x="338.1" y="26.0" font-size="14" font-weight="bold" textLength="140.3" lengthAdjust="spacingAndGlyphs">Changing the current</text>
<text x="338.1" y="42.3" font-size="14" font-weight="bold" textLength="115.5" lengthAdjust="spacingAndGlyphs">(voltage constant)</text>
</g>
<text x="29.1" y="108.1" font-size="12.5" font-weight="bold" stroke="#111" stroke-width="0.2" textLength="12.3" lengthAdjust="spacingAndGlyphs">EI</text>
<text x="41.9" y="110.3" font-size="9" font-weight="bold" stroke="#111" stroke-width="0.2" textLength="15.3" lengthAdjust="spacingAndGlyphs">max</text>
<text x="59.9" y="108.3" font-size="13.5" stroke="#1a1a1a" stroke-width="0.15" textLength="83.1" lengthAdjust="spacingAndGlyphs">= energy of the</text>
<text x="28.7" y="123.3" font-size="13.5" stroke="#1a1a1a" stroke-width="0.15" textLength="125.8" lengthAdjust="spacingAndGlyphs">continuous spectrum’s</text>
<text x="28.7" y="138.3" font-size="13.5" stroke="#1a1a1a" stroke-width="0.15" textLength="108.8" lengthAdjust="spacingAndGlyphs">maximum intensity</text>
<text x="29.1" y="173.6" font-size="13" font-weight="bold" stroke="#111" stroke-width="0.2" textLength="6.9" lengthAdjust="spacingAndGlyphs">E</text>
<text x="35.9" y="176.1" font-size="9" font-weight="bold" stroke="#111" stroke-width="0.2" textLength="17.5" lengthAdjust="spacingAndGlyphs">tube</text>
<text x="56.6" y="173.5" font-size="13.5" stroke="#1a1a1a" stroke-width="0.15" textLength="123.4" lengthAdjust="spacingAndGlyphs">= maximum energy of</text>
<text x="28.7" y="189.0" font-size="13.5" stroke="#1a1a1a" stroke-width="0.15" textLength="156.7" lengthAdjust="spacingAndGlyphs">the continuous spectrum (at</text>
<text x="28.7" y="203.8" font-size="13.5" stroke="#1a1a1a" stroke-width="0.15" textLength="142.8" lengthAdjust="spacingAndGlyphs">which the X-ray tube was</text>
<text x="28.7" y="218.4" font-size="13.5" stroke="#1a1a1a" stroke-width="0.15" textLength="65.5" lengthAdjust="spacingAndGlyphs">configured)</text>
<text x="220" y="63.4" font-size="12.3" font-weight="bold" stroke="#111" stroke-width="0.2" textLength="11.8" lengthAdjust="spacingAndGlyphs">EI</text>
<text x="232" y="66.0" font-size="9" stroke="#1a1a1a" stroke-width="0.15" textLength="15" lengthAdjust="spacingAndGlyphs">max</text>
<text x="250" y="63.4" font-size="13" stroke="#1a1a1a" stroke-width="0.15" textLength="57" lengthAdjust="spacingAndGlyphs">behaviour</text>
<text x="353.8" y="73.8" font-size="12" font-weight="bold" stroke="#111" stroke-width="0.2" textLength="10.9" lengthAdjust="spacingAndGlyphs">EI</text>
<text x="364.7" y="76.4" font-size="9" stroke="#1a1a1a" stroke-width="0.15" textLength="17.3" lengthAdjust="spacingAndGlyphs">max</text>
<text x="384.5" y="73.8" font-size="13" stroke="#1a1a1a" stroke-width="0.15" textLength="56.2" lengthAdjust="spacingAndGlyphs">behaviour</text>
<text x="241.5" y="97.2" font-size="13" font-weight="bold" textLength="29.5" lengthAdjust="spacingAndGlyphs">50kV</text>
<text x="229" y="215.6" font-size="13" font-weight="bold" textLength="29.7" lengthAdjust="spacingAndGlyphs">40kV</text>
<text x="201" y="307.59999999999997" font-size="13" font-weight="bold" textLength="29" lengthAdjust="spacingAndGlyphs">30kV</text>
<text x="202.6" y="382.0" font-size="13" font-weight="bold" textLength="29.6" lengthAdjust="spacingAndGlyphs">20kV</text>
<text x="113.8" y="419.7" font-size="13" font-weight="bold" textLength="29" lengthAdjust="spacingAndGlyphs">10kV</text>
<text x="401.4" y="100" font-size="13" font-weight="bold" textLength="29" lengthAdjust="spacingAndGlyphs">50µA</text>
<text x="424.3" y="157" font-size="13" font-weight="bold" textLength="30.1" lengthAdjust="spacingAndGlyphs">40µA</text>
<text x="423.2" y="222.2" font-size="13" font-weight="bold" textLength="31.2" lengthAdjust="spacingAndGlyphs">30µA</text>
<text x="421" y="289" font-size="13" font-weight="bold" textLength="29" lengthAdjust="spacingAndGlyphs">20µA</text>
<text x="421" y="359.4" font-size="13" font-weight="bold" textLength="28.5" lengthAdjust="spacingAndGlyphs">10µA</text>
<text x="8.2" y="437.7" font-size="12.5" stroke="#1a1a1a" stroke-width="0.15" textLength="6" lengthAdjust="spacingAndGlyphs">0</text>
<text x="120" y="438" font-size="12.5" stroke="#1a1a1a" stroke-width="0.15" textLength="11.6" lengthAdjust="spacingAndGlyphs">10</text>
<text x="229.8" y="439.2" font-size="12.5" stroke="#1a1a1a" stroke-width="0.15" textLength="12" lengthAdjust="spacingAndGlyphs">20</text>
<text x="315" y="440" font-size="12.5" stroke="#1a1a1a" stroke-width="0.15" textLength="5.8" lengthAdjust="spacingAndGlyphs">0</text>
<text x="395.7" y="441.5" font-size="12.5" stroke="#1a1a1a" stroke-width="0.15" textLength="11.5" lengthAdjust="spacingAndGlyphs">10</text>
<text x="446.3" y="438.9" font-size="12.5" font-weight="bold" textLength="11.5" lengthAdjust="spacingAndGlyphs">EI</text>
<text x="458.6" y="442.2" font-size="9.5" font-weight="bold" textLength="15.8" lengthAdjust="spacingAndGlyphs">max</text>
<text x="501.2" y="438.9" font-size="12.5" font-weight="bold" textLength="6.9" lengthAdjust="spacingAndGlyphs">E</text>
<text x="508.4" y="442.2" font-size="9.5" font-weight="bold" textLength="17.6" lengthAdjust="spacingAndGlyphs">tube</text>
<text x="289.4" y="457.5" font-size="13" stroke="#1a1a1a" stroke-width="0.15" textLength="29.9" lengthAdjust="spacingAndGlyphs">-keV-</text>
<text transform="translate(542.2,332.5) rotate(-90)" font-size="13" stroke="#1a1a1a" stroke-width="0.15" textLength="205" lengthAdjust="spacingAndGlyphs">Intensity of the continuous spectrum</text>
</g>
</svg>
</body></html>
